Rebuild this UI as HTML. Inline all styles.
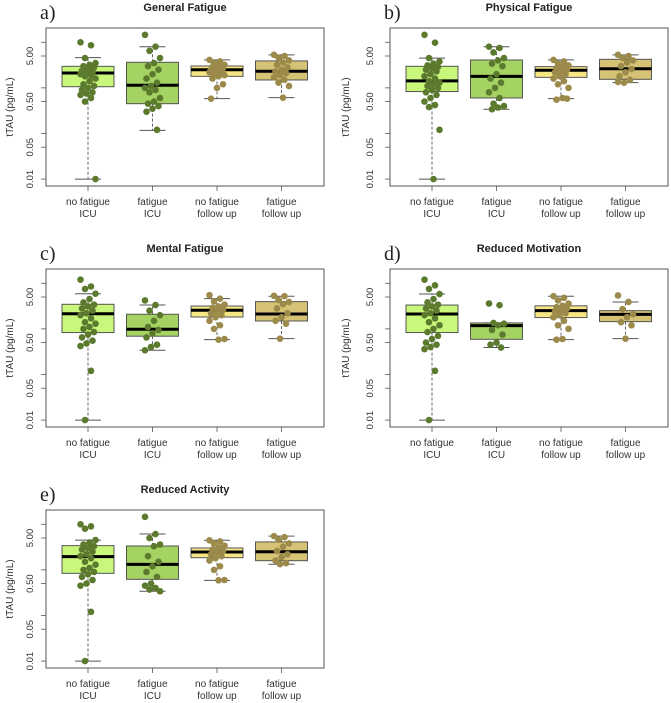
<!DOCTYPE html>
<html><head><meta charset="utf-8">
<style>
html,body{margin:0;padding:0;background:#fff;}
svg{display:block;font-family:"Liberation Sans",sans-serif;}
</style></head>
<body>
<svg id="chart" width="671" height="703" viewBox="0 0 671 703"></svg>
<script>
const panelTitles = ["General Fatigue","Physical Fatigue","Mental Fatigue","Reduced Motivation","Reduced Activity"];
const panelLetters = ["a)","b)","c)","d)","e)"];
const categories = [["no fatigue","ICU"],["fatigue","ICU"],["no fatigue","follow up"],["fatigue","follow up"]];
const yTickValues = [10,5,1,0.5,0.1,0.05,0.01];
const yTickLabels = ["","5.00","","0.50","","0.05","0.01"];
const medians = [[2.12,1.14,2.5,2.31],[1.42,1.79,2.43,2.63],[2.15,0.98,2.56,2.12],[2.12,1.18,2.51,2.08],[1.95,1.32,2.47,2.5]];
const q1s = [[1.06,0.45,1.79,1.49],[0.83,0.60,1.70,1.54],[0.83,0.69,1.82,1.49],[0.83,0.59,1.77,1.44],[0.84,0.62,1.85,1.59]];
const q3s = [[2.97,3.64,3.02,3.9],[2.97,4.09,2.92,4.23],[3.46,2.09,3.17,3.96],[3.33,1.35,3.2,2.51],[3.4,3.34,3.02,4.1]];
const whiskLo = [[0.01,0.117,0.58,0.61],[0.01,0.34,0.58,1.30],[0.01,0.34,0.58,0.61],[0.01,0.39,0.58,0.61],[0.01,0.34,0.59,1.33]];
const whiskHi = [[4.6,8.0,4.1,5.3],[4.5,8.0,4.1,5.3],[5.9,3.33,4.6,5.2],[5.8,1.35,5.2,3.89],[4.5,6.1,4.46,5.5]];
const points = [
 [[10,8.6,4.5,3.5,3.2,3,2.8,2.6,2.4,2.2,2.1,2,1.9,1.8,1.6,1.4,1.2,1.1,1,0.9,0.8,0.75,0.7,0.6,0.5,0.01],
  [14.6,8,6.5,4.5,3.5,3,2.5,2,1.6,1.3,1.1,1,0.9,0.8,0.6,0.5,0.45,0.4,0.35,0.3,0.12],
  [4.1,3.8,3.5,3.2,3,2.9,2.7,2.6,2.5,2.4,2.3,2.2,2.1,2,1.9,1.8,1.6,1.2,1,0.58],
  [5.3,5,4.6,4,3.6,3.2,2.8,2.5,2.3,2.1,1.9,1.7,1.5,1.3,1.1,0.61]],
 [[14.6,9.8,4.5,3.8,3.4,3.1,2.9,2.7,2.5,2.3,2,1.8,1.6,1.4,1.3,1.2,1.1,1,0.9,0.8,0.7,0.6,0.5,0.42,0.38,0.12,0.01],
  [8,7.5,6,4.5,4,3.4,3,2,1.6,1.3,1,0.8,0.6,0.45,0.4,0.37,0.34],
  [4.1,3.8,3.4,3.1,2.9,2.7,2.5,2.4,2.2,2,1.8,1.6,1.4,1.2,1.0,0.6,0.55,0.58],
  [5.3,5,4.5,4,3.6,3,2.6,2.2,1.8,1.5,1.3,1.35]],
 [[12,8.5,7.5,5.9,4.5,3.8,3.4,3.1,2.8,2.5,2.2,2,1.7,1.4,1.3,1.1,1,0.85,0.75,0.65,0.55,0.48,0.42,0.12,0.01],
  [4.2,3.33,2.5,2,1.5,1.1,0.95,0.8,0.65,0.45,0.4,0.34],
  [5.5,4.6,4,3.4,3.1,2.9,2.6,2.4,2.2,2,1.8,1.5,1.2,1,0.6,0.58],
  [5.3,5.2,4.3,3.9,3.5,2.8,2.2,1.8,1.5,1.3,0.61]],
 [[12,9,7.5,5.8,4.5,3.8,3.4,3.1,2.8,2.5,2.2,2,1.7,1.4,1.2,1.0,0.85,0.7,0.6,0.5,0.45,0.4,0.36,0.12,0.01],
  [3.6,3.3,1.35,1.3,1.2,0.95,0.75,0.5,0.45,0.39],
  [5.2,4.8,4.2,3.6,3.2,3,2.8,2.6,2.4,2.2,2,1.8,1.5,1.2,1,0.6,0.58],
  [5.4,3.9,2.7,2.1,1.8,1.4,1.2,0.61]],
 [[10,9,8,4.5,4,3.6,3.3,3,2.8,2.5,2.2,2,1.8,1.5,1.3,1.1,1,0.9,0.8,0.7,0.6,0.5,0.45,0.12,0.01],
  [14.6,6.1,5,3.6,3.3,2,1.5,1.2,0.9,0.7,0.5,0.45,0.4,0.37,0.34],
  [4.46,4.2,3.8,3.4,3.1,2.8,2.6,2.4,2.2,2,1.8,1.6,1.2,1,0.6,0.59],
  [5.5,5.2,4.6,3.8,3.2,2.6,2.2,1.9,1.6,1.4,1.33]]
];
const boxFill = ["#c9f77b","#a4d263","#f7e685","#d5c274"];
const ptFill = ["#5b7a2e","#5b7a2e","#9b8a4a","#9b8a4a"];

const svg = document.getElementById('chart');
const NS = 'http://www.w3.org/2000/svg';
function mk(tag, attrs, parent){const e=document.createElementNS(NS,tag);for(const k in attrs)e.setAttribute(k,attrs[k]);(parent||svg).appendChild(e);return e;}

panelTitles.forEach((title,p)=>{
  const col=p%2,row=Math.floor(p/2);
  const ox=col*344, oy=row*241;
  const x0=46+ox, x1=x0+278, top=28+oy, bot=186+oy;
  const yScale = v => 56+oy - (Math.log10(v)-Math.log10(5))*45.6;
  const xScale = i => x0+42+i*64.5;
  const g=mk('g',{});
  
  
  const lt=mk('text',{x:40+ox,y:19+oy,'font-family':'Liberation Serif, serif','font-size':20,fill:'#222'},g);
  lt.textContent=panelLetters[p];
  
  
  const tt=mk('text',{x:(x0+x1)/2,y:11+oy,'text-anchor':'middle','font-size':11,'font-weight':'bold',fill:'#222'},g);
  tt.textContent=title;
  
  
  const fr=mk('rect',{x:x0,y:top,width:278,height:bot-top,fill:'none',stroke:'#555','stroke-width':1},g);
  
  
  const yl=mk('text',{x:0,y:0,transform:`translate(${13+ox-(col?8:0)},${107+oy}) rotate(-90)`,'text-anchor':'middle','font-size':10,fill:'#333'},g);
  yl.textContent='tTAU (pg/mL)';
  
  
  yTickValues.forEach((v,k)=>{
    const y=yScale(v);
    const t=mk('line',{x1:x0-5,x2:x0,y1:y,y2:y,stroke:'#555','stroke-width':0.8},g);
    
    
    if(yTickLabels[k]){
      const l=mk('text',{x:0,y:0,transform:`translate(${x0-13-(col?4:0)},${y}) rotate(-90)`,'text-anchor':'middle','font-size':9.5,fill:'#333'},g);
      l.textContent=yTickLabels[k];
      
      
    }
  });
  categories.forEach((c,i)=>{
    const cx=xScale(i);
    const tk=mk('line',{x1:cx,x2:cx,y1:bot,y2:bot+5,stroke:'#555','stroke-width':0.8},g);
    
    
    c.forEach((line,j)=>{
      const tl=mk('text',{x:cx,y:bot+19+j*12,'text-anchor':'middle','font-size':10,fill:'#333'},g);
      tl.textContent=line;
      
      
    });
    const yLo=yScale(whiskLo[p][i]), yHi=yScale(whiskHi[p][i]);
    const yQ1=yScale(q1s[p][i]), yQ3=yScale(q3s[p][i]), yM=yScale(medians[p][i]);
    const w1=mk('line',{x1:cx,x2:cx,y1:yQ1,y2:yLo,stroke:'#666','stroke-width':1,'stroke-dasharray':'3,2'},g);
    
    
    const w2=mk('line',{x1:cx,x2:cx,y1:yQ3,y2:yHi,stroke:'#666','stroke-width':1,'stroke-dasharray':'3,2'},g);
    
    
    [yLo,yHi].forEach(yy=>{
      const cap=mk('line',{x1:cx-13,x2:cx+13,y1:yy,y2:yy,stroke:'#555','stroke-width':1},g);
      
      
    });
    const bx=mk('rect',{x:cx-26,y:yQ3,width:52,height:yQ1-yQ3,fill:boxFill[i],stroke:'#555','stroke-width':1},g);
    
    
    const md=mk('line',{x1:cx-26,x2:cx+26,y1:yM,y2:yM,stroke:'#000','stroke-width':3},g);
    
    
    points[p][i].forEach((v,k)=>{
      const jx=((k*7)%11-5)*1.5;
      const pt=mk('circle',{cx:cx+jx,cy:yScale(v),r:3.3,fill:ptFill[i]},g);
      
      
    });
  });
});
</script>
</body></html>
